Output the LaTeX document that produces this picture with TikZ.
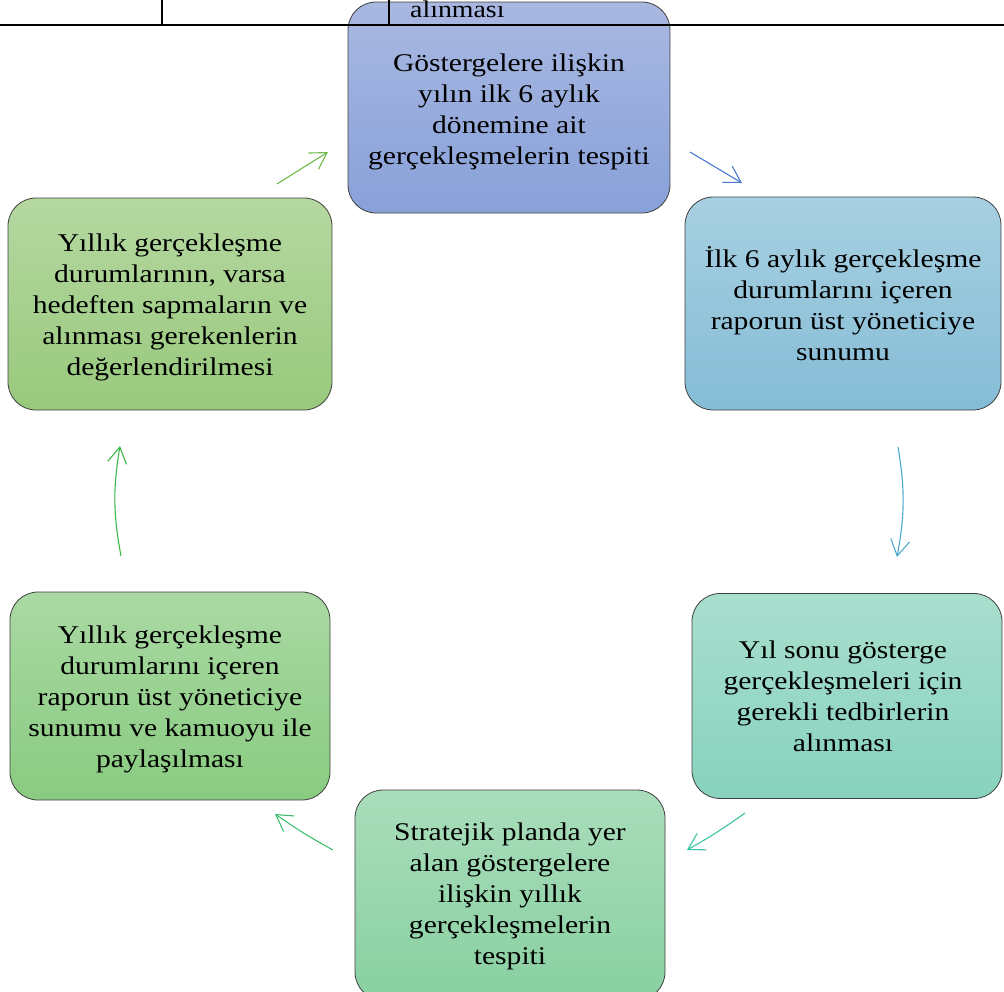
\documentclass[tikz,border=0pt]{standalone}
\usepackage{fontspec}
\setmainfont{Liberation Serif}[FakeStretch=1.16]
\usetikzlibrary{arrows.meta}
\definecolor{b1t}{HTML}{A9B8E1}\definecolor{b1b}{HTML}{88A1D9}
\definecolor{b2t}{HTML}{A7D0E1}\definecolor{b2b}{HTML}{85BCD6}
\definecolor{b3t}{HTML}{A9DECE}\definecolor{b3b}{HTML}{87D2BE}
\definecolor{b4t}{HTML}{AADDBB}\definecolor{b4b}{HTML}{88D0A1}
\definecolor{b5t}{HTML}{AAD9A3}\definecolor{b5b}{HTML}{89CB81}
\definecolor{b6t}{HTML}{B5D8A1}\definecolor{b6b}{HTML}{98C97C}
\definecolor{a1c}{HTML}{70B94C}\definecolor{a2c}{HTML}{4A78D0}
\definecolor{a3c}{HTML}{49A9CC}\definecolor{a4c}{HTML}{3EC4A6}
\definecolor{a5c}{HTML}{3CC070}\definecolor{a6c}{HTML}{3AB74A}
\tikzset{
  cyclebox/.style={rounded corners=28pt, draw=black!75, line width=0.8pt, inner sep=0pt},
  boxtext/.style={align=center, inner sep=0pt, font=\fontsize{25.5}{31}\selectfont},
  cyclearrow/.style={line width=1.1pt, -{Straight Barb[length=16pt,width=19pt,line width=1.1pt]}},
  tableline/.style={line width=1.5pt, black}
}
\begin{document}
\begin{tikzpicture}[x=1pt,y=1pt]
\useasboundingbox (0,0) rectangle (1004,-991);
\clip (0,0) rectangle (1004,-991);
% boxes
\node[cyclebox, top color=b1t, bottom color=b1b, minimum width=322pt, minimum height=211pt] (n1) at (509,-107.5) {};
\node[cyclebox, top color=b2t, bottom color=b2b, minimum width=316pt, minimum height=213pt] (n2) at (843,-303.5) {};
\node[cyclebox, top color=b3t, bottom color=b3b, minimum width=310pt, minimum height=205pt] (n3) at (847,-696) {};
\node[cyclebox, top color=b4t, bottom color=b4b, minimum width=310pt, minimum height=210pt] (n4) at (510,-895) {};
\node[cyclebox, top color=b5t, bottom color=b5b, minimum width=320pt, minimum height=208pt] (n5) at (170,-696) {};
\node[cyclebox, top color=b6t, bottom color=b6b, minimum width=324pt, minimum height=212pt] (n6) at (170,-304) {};
% texts
\node[boxtext, yshift=-4pt] (n1t) at (n1.center)
  {Göstergelere ilişkin\\yılın ilk 6 aylık\\dönemine ait\\gerçekleşmelerin tespiti};
\node[boxtext] (n2t) at (n2.center)
  {İlk 6 aylık gerçekleşme\\durumlarını içeren\\raporun üst yöneticiye\\sunumu};
\node[boxtext, xshift=-4pt] (n3t) at (n3.center)
  {Yıl sonu gösterge\\gerçekleşmeleri için\\gerekli tedbirlerin\\alınması};
\node[boxtext, yshift=-1pt] (n4t) at (n4.center)
  {Stratejik planda yer\\alan göstergelere\\ilişkin yıllık\\gerçekleşmelerin\\tespiti};
\node[boxtext, yshift=-3pt] (n5t) at (n5.center)
  {Yıllık gerçekleşme\\durumlarını içeren\\raporun üst yöneticiye\\sunumu ve kamuoyu ile\\paylaşılması};
\node[boxtext, yshift=-3pt] (n6t) at (n6.center)
  {Yıllık gerçekleşme\\durumlarının, varsa\\hedeften sapmaların ve\\alınması gerekenlerin\\değerlendirilmesi};
% arrow end points
\coordinate (a1s) at (277,-184); \coordinate (a1e) at (328,-152);
\coordinate (a2s) at (690,-152); \coordinate (a2e) at (742,-183);
\coordinate (a3s) at (898,-447); \coordinate (a3e) at (897,-557);
\coordinate (a4s) at (745,-813); \coordinate (a4e) at (687,-850);
\coordinate (a5s) at (333,-850); \coordinate (a5e) at (275,-814);
\coordinate (a6s) at (121,-556); \coordinate (a6e) at (120,-446);
\draw[cyclearrow, a1c] (a1s) -- (a1e);
\draw[cyclearrow, a2c] (a2s) -- (a2e);
\draw[cyclearrow, a3c] (a3s) to[bend left=10] (a3e);
\draw[cyclearrow, a4c] (a4s) to[bend left=3] (a4e);
\draw[cyclearrow, a5c] (a5s) to[bend left=3] (a5e);
\draw[cyclearrow, a6c] (a6s) to[bend left=10] (a6e);
% table fragment at top
\coordinate (tl) at (0,-25); \coordinate (tr) at (1004,-25);
\coordinate (v1t) at (162,0); \coordinate (v1b) at (162,-25);
\coordinate (v2t) at (389,0); \coordinate (v2b) at (389,-25);
\draw[tableline] (tl) -- (tr);
\draw[tableline] (v1t) -- (v1b);
\draw[tableline] (v2t) -- (v2b);
\node[anchor=base west, inner sep=0pt, font=\fontsize{24}{28}\selectfont] (tabtext) at (410,-17) {alınması};
\end{tikzpicture}
\end{document}
